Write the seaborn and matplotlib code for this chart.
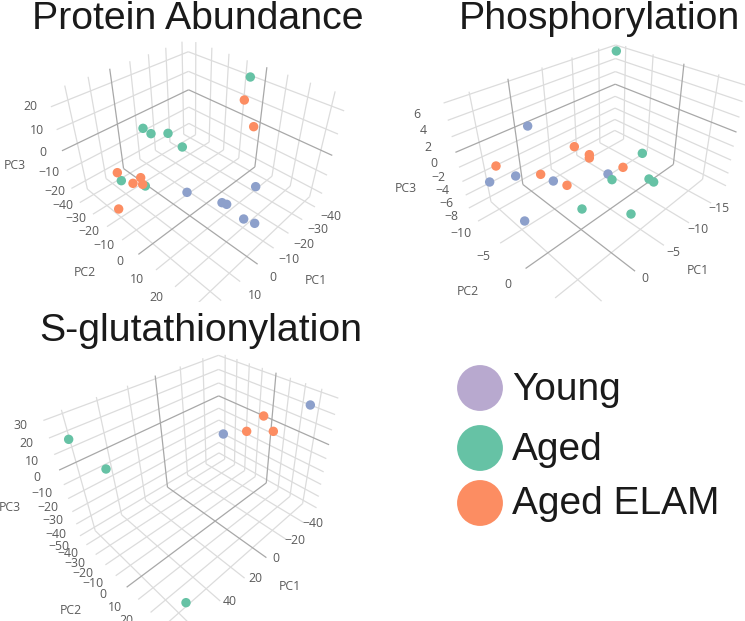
import numpy as np
import pandas as pd
import matplotlib
matplotlib.use('Agg')
import matplotlib.pyplot as plt
import seaborn as sns

GROUPS = ['Young', 'Aged', 'Aged ELAM']
PALETTE = {'Young': '#8DA0CB', 'Aged': '#66C2A5', 'Aged ELAM': '#FC8D62'}
LEGEND_COLORS = ['#B8A9CF', '#66C2A5', '#FC8D62']

# projected PCA scores (3 units = 1 image pixel)
protein_young = [(561, 577), (666, 608), (680, 613), (731, 657), (764, 670), (767, 560)]
protein_aged = [(751, 231), (429, 385), (453, 401), (504, 400), (547, 441), (364, 542), (436, 558)]
protein_elam = [(733, 300), (761, 380), (352, 518), (422, 533), (399, 550), (428, 553), (356, 627)]

phospho_young = [(458, 378), (344, 546), (422, 528), (535, 543), (699, 522), (449, 663)]
phospho_aged = [(724, 153), (802, 460), (711, 539), (822, 537), (836, 546), (621, 627), (768, 642)]
phospho_elam = [(363, 498), (598, 440), (643, 464), (643, 474), (744, 502), (497, 523), (576, 556)]

glut_young = [(931, 300), (670, 387)]
glut_aged = [(206, 403), (318, 492), (558, 893)]
glut_elam = [(791, 333), (740, 379), (820, 379)]

# axis ticks
protein_pc1 = [-40, -30, -20, -10, 0, 10, 20]
protein_pc2 = [-40, -30, -20, -10, 0, 10, 20, 30]
protein_pc3 = [-20, -10, 0, 10, 20]
phospho_pc1 = [-15, -10, -5, 0, 5]
phospho_pc2 = [-10, -5, 0, 5]
phospho_pc3 = [-8, -6, -4, -2, 0, 2, 4, 6]
glut_pc1 = [-40, -20, 0, 20, 40, 60]
glut_pc2 = [-40, -30, -20, -10, 0, 10, 20, 30]
glut_pc3 = [-50, -40, -30, -20, -10, 0, 10, 20, 30]

PANELS = [
    dict(title='Protein Abundance', title_xy=(198, 29), crop=(0, 0, 375, 302),
         points=(protein_young, protein_aged, protein_elam),
         ticks=(protein_pc1, protein_pc2, protein_pc3),
         ranges=((-44, 27), (-45, 35), (-25, 26)),
         corners=dict(B=(563, 399), L=(225, 594), R=(966, 594), F=(612, 948),
                      T=(563, 114), LT=(144, 270), RT=(1044, 300)),
         labels=[('20', 90, 320), ('10', 112, 392), ('0', 130, 458), ('−10', 148, 518), ('−20', 165, 575),
                 ('−40', 190, 618), ('−30', 228, 655), ('−20', 268, 695), ('−10', 313, 738), ('0', 360, 785),
                 ('10', 410, 838), ('20', 470, 893),
                 ('−40', 993, 650), ('−30', 955, 690), ('−20', 913, 733), ('−10', 867, 780), ('0', 818, 832),
                 ('10', 765, 888),
                 ('PC3', 44, 497), ('PC2', 253, 818), ('PC1', 948, 842)]),
    dict(title='Phosphorylation', title_xy=(599, 29), crop=(375, 0, 370, 302),
         points=(phospho_young, phospho_aged, phospho_elam),
         ticks=(phospho_pc1, phospho_pc2, phospho_pc3),
         ranges=((-18.5, 8), (-12, 8.5), (-8.8, 6.3)),
         corners=dict(B=(720, 405), L=(285, 640), R=(1050, 570), F=(610, 965),
                      T=(720, 128), LT=(205, 300), RT=(1115, 250)),
         labels=[('6', 126, 342), ('4', 145, 393), ('2', 160, 443), ('0', 176, 490), ('−2', 190, 532),
                 ('−4', 203, 572), ('−6', 215, 612), ('−8', 228, 650),
                 ('−10', 258, 700), ('−5', 325, 770), ('0', 400, 853),
                 ('−15', 1032, 625), ('−10', 970, 688), ('−5', 895, 757), ('0', 810, 835),
                 ('PC3', 92, 567), ('PC2', 278, 876), ('PC1', 970, 812)]),
    dict(title='S-glutathionylation', title_xy=(201, 341), crop=(0, 305, 375, 316),
         points=(glut_young, glut_aged, glut_elam),
         ticks=(glut_pc1, glut_pc2, glut_pc3),
         ranges=((-55, 70), (-46, 40), (-53, 32)),
         corners=dict(B=(658, 450), L=(240, 700), R=(945, 625), F=(539, 1007),
                      T=(658, 145), LT=(125, 340), RT=(1015, 262)),
         labels=[('30', 60, 362), ('20', 80, 415), ('10', 97, 468), ('0', 110, 518), ('−10', 125, 565),
                 ('−20', 145, 607), ('−30', 160, 648), ('−40', 168, 688), ('−50', 178, 725),
                 ('−40', 205, 745), ('−30', 225, 775), ('−20', 250, 805), ('−10', 280, 835), ('0', 310, 870),
                 ('10', 345, 908), ('20', 380, 945),
                 ('−40', 940, 655), ('−20', 885, 705), ('0', 828, 760), ('20', 765, 822), ('40', 690, 890),
                 ('PC3', 30, 607), ('PC2', 212, 917), ('PC1', 870, 843)]),
]

FIG_W, FIG_H = 745, 621


def fit_camera(corners):
    # projective camera from the box corners, unit cube -> panel coordinates
    cube = dict(B=(0, 0, 0), L=(1, 0, 0), R=(0, 1, 0), F=(1, 1, 0), T=(0, 0, 1), LT=(1, 0, 1), RT=(0, 1, 1))
    rows = []
    for key, (x, y) in corners.items():
        p = [*cube[key], 1]
        rows.append(p + [0, 0, 0, 0] + [-x * c for c in p])
        rows.append([0, 0, 0, 0] + p + [-y * c for c in p])
    _, _, vt = np.linalg.svd(np.array(rows, dtype=float))
    return vt[-1].reshape(3, 4)


def project(cam, pts):
    pts = np.c_[np.array(pts, dtype=float), np.ones(len(pts))]
    out = pts @ cam.T
    return out[:, :2] / out[:, 2:]


def draw_box(ax, panel):
    cam = fit_camera(panel['corners'])
    lo = np.array([r[0] for r in panel['ranges']], dtype=float)
    hi = np.array([r[1] for r in panel['ranges']], dtype=float)
    frac = [(np.array(t, dtype=float) - lo[i]) / (hi[i] - lo[i]) for i, t in enumerate(panel['ticks'])]
    segments = []
    for tick, u in zip(panel['ticks'][0], frac[0]):
        segments += [(tick, [(u, 0, 0), (u, 0, 1)]), (tick, [(u, 0, 0), (u, 1, 0)])]
    for tick, v in zip(panel['ticks'][1], frac[1]):
        segments += [(tick, [(0, v, 0), (0, v, 1)]), (tick, [(0, v, 0), (1, v, 0)])]
    for tick, w in zip(panel['ticks'][2], frac[2]):
        segments += [(tick, [(0, 0, w), (1, 0, w)]), (tick, [(0, 0, w), (0, 1, w)])]
    # zero lines go on top of the light grid
    for tick, seg in sorted(segments, key=lambda s: s[0] == 0):
        xy = project(cam, seg)
        ax.plot(xy[:, 0], xy[:, 1], color='#a8a8a8' if tick == 0 else '#dcdcdc',
                lw=0.9, zorder=1, solid_capstyle='butt')


sns.set_theme(style='white')
plt.rcParams['font.family'] = ['Liberation Sans', 'DejaVu Sans']

fig = plt.figure(figsize=(FIG_W / 100, FIG_H / 100), dpi=100)

for panel in PANELS:
    left, top, w, h = panel['crop']
    ax = fig.add_axes([left / FIG_W, 1 - (top + h) / FIG_H, w / FIG_W, h / FIG_H])
    ax.set_xlim(0, w * 3)
    ax.set_ylim(h * 3, 0)
    ax.axis('off')
    ax.patch.set_alpha(0)

    draw_box(ax, panel)

    df = pd.concat([pd.DataFrame(pts, columns=['x', 'y']).assign(group=g)
                    for g, pts in zip(GROUPS, panel['points'])])
    sns.scatterplot(data=df, x='x', y='y', hue='group', hue_order=GROUPS, palette=PALETTE,
                    s=46, linewidth=0, legend=False, ax=ax, zorder=3)

    for text, x, y in panel['labels']:
        ax.text(x, y, text, ha='center', va='center', fontsize=8.8, color='#5a5a5a',
                family=['Open Sans', 'DejaVu Sans'], clip_on=True)

    fig.text(panel['title_xy'][0] / FIG_W, 1 - panel['title_xy'][1] / FIG_H, panel['title'],
             ha='center', va='baseline', fontsize=28.3, color='#1a1a1a')

# legend on the free corner, in image pixels
leg = fig.add_axes([0, 0, 1, 1])
leg.set_xlim(0, FIG_W)
leg.set_ylim(FIG_H, 0)
leg.axis('off')
leg.patch.set_alpha(0)
legend_df = pd.DataFrame({'x': [480, 480, 480], 'y': [388, 448, 503], 'group': GROUPS,
                          'baseline': [400, 460, 514]})
sns.scatterplot(data=legend_df, x='x', y='y', hue='group', hue_order=GROUPS,
                palette=dict(zip(GROUPS, LEGEND_COLORS)), s=1090, linewidth=0, legend=False, ax=leg)
for name, y in zip(GROUPS, legend_df['baseline']):
    leg.text(512, y, name, ha='left', va='baseline', fontsize=28, color='#1a1a1a')

fig.savefig('out.png', dpi=100)
plt.close(fig)
